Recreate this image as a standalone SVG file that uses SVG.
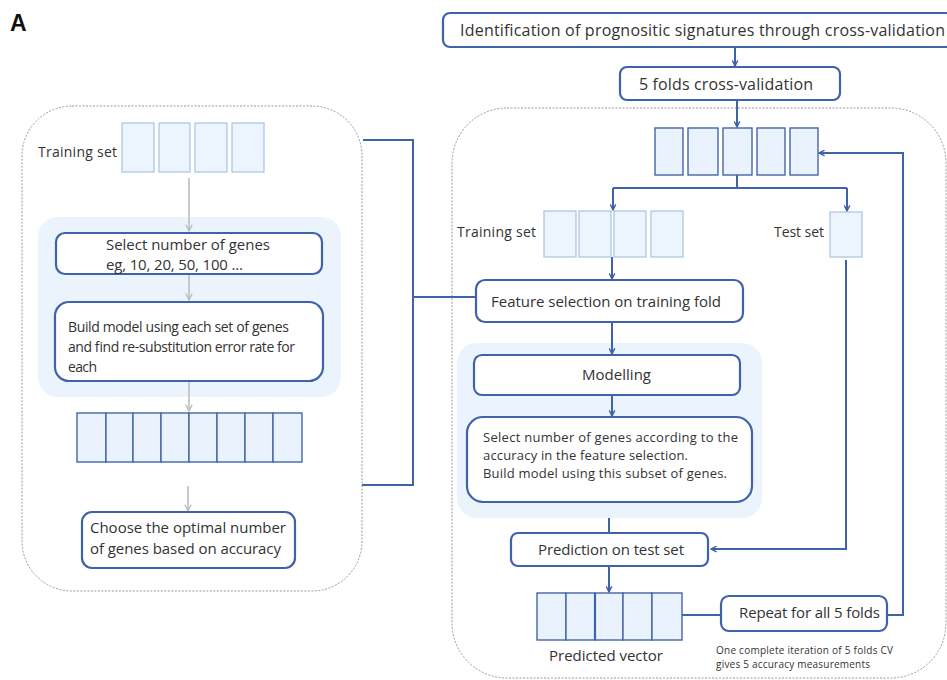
<svg xmlns="http://www.w3.org/2000/svg" width="947" height="680" viewBox="0 0 947 680">
<defs>
<style>
text{font-family:"Open Sans","Liberation Sans",sans-serif;fill:#333;}
.box{fill:#fff;stroke:#3f62a8;stroke-width:2.2;}
.cell{fill:#eaf3fd;stroke:#4565a8;stroke-width:1.4;}
.cellL{fill:#ecf4fd;stroke:#a9c3e2;stroke-width:1.2;}
.cont{fill:#fff;stroke:#9a9a9a;stroke-width:1;stroke-dasharray:2 1.5;}
.panel{fill:#ebf4fc;}
.conn{fill:none;stroke:#3f62a8;stroke-width:2;}
.gray{fill:none;stroke:#bdbdbd;stroke-width:1.6;}
</style>
<marker id="ab" viewBox="0 0 10 10" refX="9" refY="5" markerWidth="7" markerHeight="7" orient="auto" markerUnits="userSpaceOnUse">
<path d="M1,1 L9,5 L1,9" fill="none" stroke="#3f62a8" stroke-width="2"/>
</marker>
<marker id="ag" viewBox="0 0 10 10" refX="9" refY="5" markerWidth="8" markerHeight="8" orient="auto" markerUnits="userSpaceOnUse">
<path d="M1,1 L9,5 L1,9" fill="none" stroke="#bdbdbd" stroke-width="1.6"/>
</marker>
</defs>
<rect width="947" height="680" fill="#fff"/>
<text x="10" y="31" style="font-family:'Liberation Sans',sans-serif;font-weight:bold;font-size:23px;fill:#111">A</text>

<!-- containers -->
<g id="left-container">
<rect class="cont" x="22" y="106" width="340" height="485" rx="50"/>
<rect class="panel" x="38" y="217" width="303" height="180" rx="20"/>
</g>
<g id="right-container">
<rect class="cont" x="452" y="108" width="494" height="570" rx="55"/>
<rect class="panel" x="457" y="343" width="305" height="175" rx="20"/>
</g>

<!-- connectors -->
<g id="connectors">
<path class="conn" d="M735,47 V66" marker-end="url(#ab)"/>
<path class="conn" d="M737,100 V127" marker-end="url(#ab)"/>
<path class="conn" d="M737,175 V188"/>
<path class="conn" d="M613,188 H847"/>
<path class="conn" d="M613,188 V210" marker-end="url(#ab)"/>
<path class="conn" d="M847,188 V211" marker-end="url(#ab)"/>
<path class="conn" d="M612,257 V279" marker-end="url(#ab)"/>
<path class="conn" d="M612,322 V354" marker-end="url(#ab)"/>
<path class="conn" d="M612,395 V416" marker-end="url(#ab)"/>
<path class="conn" d="M609,518 V533"/>
<path class="conn" d="M846,260 V549 H711" marker-end="url(#ab)"/>
<path class="conn" d="M609,566 V592" marker-end="url(#ab)"/>
<path class="conn" d="M682,615 H721"/>
<path class="conn" d="M887,615 H903 V153 H819" marker-end="url(#ab)"/>
<path class="conn" d="M363,140 H413 V485 H362"/>
<path class="conn" d="M413,297 H476"/>
<path class="gray" d="M189,178 V231" marker-end="url(#ag)"/>
<path class="gray" d="M189,274 V300" marker-end="url(#ag)"/>
<path class="gray" d="M189,381 V411" marker-end="url(#ag)"/>
<path class="gray" d="M188,486 V511" marker-end="url(#ag)"/>
</g>

<!-- left nodes -->
<g id="left-training-set">
<text x="38" y="157" font-size="14" textLength="79">Training set</text>
<rect class="cellL" x="122" y="123" width="32" height="49"/>
<rect class="cellL" x="159" y="123" width="31" height="49"/>
<rect class="cellL" x="195" y="123" width="32" height="49"/>
<rect class="cellL" x="232" y="123" width="32" height="49"/>
</g>
<g id="select-genes">
<rect class="box" x="56" y="233" width="266" height="41" rx="9"/>
<text x="106" y="250" font-size="15" textLength="164">Select number of genes</text>
<text x="106" y="270" font-size="15" textLength="137">eg, 10, 20, 50, 100 ...</text>
</g>
<g id="build-model">
<rect class="box" x="55" y="302" width="268" height="79" rx="14"/>
<text x="68" y="332" font-size="14" textLength="221">Build model using each set of genes</text>
<text x="68" y="352" font-size="14" textLength="227">and find re-substitution error rate for</text>
<text x="68" y="372" font-size="14" textLength="29">each</text>
</g>
<g id="gene-vector">
<rect class="cell" x="77" y="413" width="29" height="49"/>
<rect class="cell" x="106" y="413" width="27" height="49"/>
<rect class="cell" x="133" y="413" width="28" height="49"/>
<rect class="cell" x="161" y="413" width="28" height="49"/>
<rect class="cell" x="189" y="413" width="28" height="49"/>
<rect class="cell" x="217" y="413" width="28" height="49"/>
<rect class="cell" x="245" y="413" width="28" height="49"/>
<rect class="cell" x="273" y="413" width="29" height="49"/>
</g>
<g id="choose-optimal">
<rect class="box" x="82" y="512" width="213" height="56" rx="10"/>
<text x="90" y="533" font-size="15" textLength="196">Choose the optimal number</text>
<text x="90" y="554" font-size="15" textLength="191">of genes based on accuracy</text>
</g>

<!-- right nodes -->
<g id="title">
<rect class="box" x="443" y="13" width="510" height="34" rx="7"/>
<text x="460" y="36" font-size="16" textLength="485">Identification of prognositic signatures through cross-validation</text>
</g>
<g id="five-folds">
<rect class="box" x="620" y="67" width="220" height="33" rx="7"/>
<text x="639" y="90" font-size="16" textLength="174">5 folds cross-validation</text>
</g>
<g id="folds">
<rect class="cell" x="655" y="128" width="28" height="47"/>
<rect class="cell" x="688" y="128" width="30" height="47"/>
<rect class="cell" x="723" y="128" width="29" height="47"/>
<rect class="cell" x="757" y="128" width="28" height="47"/>
<rect class="cell" x="790" y="128" width="28" height="47"/>
</g>
<g id="right-training-set">
<text x="457" y="237" font-size="14" textLength="79">Training set</text>
<rect class="cellL" x="544" y="211" width="32" height="46"/>
<rect class="cellL" x="579" y="211" width="32" height="46"/>
<rect class="cellL" x="614" y="211" width="32" height="46"/>
<rect class="cellL" x="651" y="211" width="32" height="46"/>
</g>
<g id="test-set">
<text x="774" y="237" font-size="14" textLength="50">Test set</text>
<rect class="cellL" x="830" y="212" width="32" height="45"/>
</g>
<g id="feature-selection">
<rect class="box" x="476" y="280" width="267" height="42" rx="9"/>
<text x="491" y="307" font-size="15" textLength="230">Feature selection on training fold</text>
</g>
<g id="modelling">
<rect class="box" x="474" y="355" width="266" height="40" rx="8"/>
<text x="582" y="380" font-size="15" textLength="69">Modelling</text>
</g>
<g id="select-according">
<rect class="box" x="467" y="417" width="285" height="85" rx="16"/>
<text x="483" y="442" font-size="13" textLength="255">Select number of genes according to the</text>
<text x="483" y="460" font-size="13" textLength="205">accuracy in the feature selection.</text>
<text x="483" y="478" font-size="13" textLength="244">Build model using this subset of genes.</text>
</g>
<g id="prediction">
<rect class="box" x="511" y="533" width="197" height="33" rx="7"/>
<text x="538" y="555" font-size="15" textLength="146">Prediction on test set</text>
</g>
<g id="predicted-vector">
<rect class="cell" x="537" y="593" width="29" height="47"/>
<rect class="cell" x="566" y="593" width="29" height="47"/>
<rect class="cell" x="595" y="593" width="28" height="47"/>
<rect class="cell" x="623" y="593" width="29" height="47"/>
<rect class="cell" x="652" y="593" width="30" height="47"/>
<line x1="595" y1="593" x2="595" y2="640" stroke="#3f62a8" stroke-width="2.2"/>
<text x="549" y="661" font-size="15" textLength="114">Predicted vector</text>
</g>
<g id="repeat">
<rect class="box" x="721" y="596" width="166" height="35" rx="8"/>
<text x="739" y="618" font-size="15" textLength="141">Repeat for all 5 folds</text>
<text x="716" y="654" font-size="10" textLength="177">One complete iteration of 5 folds CV</text>
<text x="716" y="668" font-size="10" textLength="154">gives 5 accuracy measurements</text>
</g>
</svg>
